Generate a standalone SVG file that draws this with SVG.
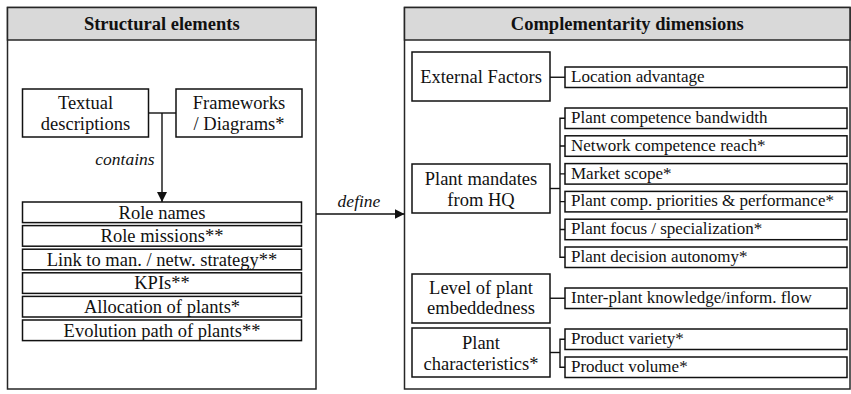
<svg xmlns="http://www.w3.org/2000/svg" width="851" height="394" viewBox="0 0 851 394">
  <style>
    .panel { fill: #ffffff; stroke: #262626; stroke-width: 1.5; }
    .head { fill: #d9d9d9; stroke: #262626; stroke-width: 1.5; }
    .box { fill: #ffffff; stroke: #111111; stroke-width: 1.5; }
    .wire { fill: none; stroke: #111111; stroke-width: 1.4; }
    text { fill: #111111; }
    .title { font-family: 'Liberation Serif', serif; font-size: 18.5px; font-weight: bold; text-anchor: middle; }
    .lbl { font-family: 'Liberation Serif', serif; font-size: 18.5px; text-anchor: middle; }
    .sub { font-family: 'Liberation Serif', serif; font-size: 17px; text-anchor: start; }
    .edge { font-family: 'Liberation Serif', serif; font-size: 17.5px; font-style: italic; text-anchor: middle; }
  </style>
  <defs>
    <marker id="arrow" viewBox="0 0 10 10" refX="10" refY="5" markerWidth="10" markerHeight="10" markerUnits="userSpaceOnUse" orient="auto">
      <path d="M0,0 L10,5 L0,10 Z" fill="#111111"/>
    </marker>
  </defs>

  <!-- Left panel: structural elements -->
  <g id="panel-structural">
    <rect class="panel" x="7.5" y="7.5" width="308.5" height="381.5"/>
    <rect class="head" x="7.5" y="7.5" width="308.5" height="32.5"/>
    <text class="title" x="161.75" y="29.5">Structural elements</text>
  </g>

  <g id="node-textual">
    <rect class="box" x="22.5" y="89" width="126" height="48"/>
    <text class="lbl" x="85.5" y="109">Textual</text>
    <text class="lbl" x="85.5" y="130">descriptions</text>
  </g>
  <g id="node-frameworks">
    <rect class="box" x="176" y="89" width="126" height="48"/>
    <text class="lbl" x="239" y="109">Frameworks</text>
    <text class="lbl" x="239" y="130">/ Diagrams*</text>
  </g>

  <g id="node-role-names">
    <rect class="box" x="22.5" y="202" width="279" height="20.6"/>
    <text class="lbl" x="162" y="218.5">Role names</text>
  </g>
  <g id="node-role-missions">
    <rect class="box" x="22.5" y="225.6" width="279" height="20.6"/>
    <text class="lbl" x="162" y="242.1">Role missions**</text>
  </g>
  <g id="node-link-strategy">
    <rect class="box" x="22.5" y="249.2" width="279" height="20.6"/>
    <text class="lbl" x="162" y="265.7">Link to man. / netw. strategy**</text>
  </g>
  <g id="node-kpis">
    <rect class="box" x="22.5" y="272.8" width="279" height="20.6"/>
    <text class="lbl" x="162" y="289.3">KPIs**</text>
  </g>
  <g id="node-allocation">
    <rect class="box" x="22.5" y="296.4" width="279" height="20.6"/>
    <text class="lbl" x="162" y="312.9">Allocation of plants*</text>
  </g>
  <g id="node-evolution">
    <rect class="box" x="22.5" y="320" width="279" height="20.6"/>
    <text class="lbl" x="162" y="336.5">Evolution path of plants**</text>
  </g>

  <!-- Right panel: complementarity dimensions -->
  <g id="panel-complementarity">
    <rect class="panel" x="404.5" y="7.5" width="445.5" height="381.5"/>
    <rect class="head" x="404.5" y="7.5" width="445.5" height="32.5"/>
    <text class="title" x="627.25" y="29.5">Complementarity dimensions</text>
  </g>

  <g id="node-external">
    <rect class="box" x="412" y="52" width="138" height="49"/>
    <text class="lbl" x="481" y="83">External Factors</text>
  </g>
  <g id="node-location">
    <rect class="box" x="565" y="67" width="282" height="20.5"/>
    <text class="sub" x="571" y="82">Location advantage</text>
  </g>

  <g id="node-mandates">
    <rect class="box" x="412" y="164" width="138" height="49"/>
    <text class="lbl" x="481" y="184.5">Plant mandates</text>
    <text class="lbl" x="481" y="205.5">from HQ</text>
  </g>
  <g id="node-bandwidth">
    <rect class="box" x="565" y="108" width="282" height="20.5"/>
    <text class="sub" x="571" y="123">Plant competence bandwidth</text>
  </g>
  <g id="node-reach">
    <rect class="box" x="565" y="135.8" width="282" height="20.5"/>
    <text class="sub" x="571" y="150.8">Network competence reach*</text>
  </g>
  <g id="node-market">
    <rect class="box" x="565" y="163.6" width="282" height="20.5"/>
    <text class="sub" x="571" y="178.6">Market scope*</text>
  </g>
  <g id="node-priorities">
    <rect class="box" x="565" y="191.4" width="282" height="20.5"/>
    <text class="sub" x="571" y="206.4">Plant comp. priorities &amp; performance*</text>
  </g>
  <g id="node-focus">
    <rect class="box" x="565" y="219.2" width="282" height="20.5"/>
    <text class="sub" x="571" y="234.2">Plant focus / specialization*</text>
  </g>
  <g id="node-autonomy">
    <rect class="box" x="565" y="247" width="282" height="20.5"/>
    <text class="sub" x="571" y="262">Plant decision autonomy*</text>
  </g>

  <g id="node-embeddedness">
    <rect class="box" x="412" y="274" width="138" height="49"/>
    <text class="lbl" x="481" y="293.5">Level of plant</text>
    <text class="lbl" x="481" y="314">embeddedness</text>
  </g>
  <g id="node-knowledge-flow">
    <rect class="box" x="565" y="288" width="282" height="20.5"/>
    <text class="sub" x="571" y="303">Inter-plant knowledge/inform. flow</text>
  </g>

  <g id="node-characteristics">
    <rect class="box" x="412" y="328" width="138" height="49"/>
    <text class="lbl" x="481" y="348.5">Plant</text>
    <text class="lbl" x="481" y="369.5">characteristics*</text>
  </g>
  <g id="node-variety">
    <rect class="box" x="565" y="329" width="282" height="20.5"/>
    <text class="sub" x="571" y="344">Product variety*</text>
  </g>
  <g id="node-volume">
    <rect class="box" x="565" y="357" width="282" height="20.5"/>
    <text class="sub" x="571" y="372">Product volume*</text>
  </g>

  <!-- Connectors -->
  <g id="connectors">
    <!-- sources joined, then down to the role list -->
    <path class="wire" d="M148.5,113 H176"/>
    <path class="wire" d="M162,113 V202" marker-end="url(#arrow)"/>
    <text class="edge" x="125" y="165">contains</text>

    <!-- panel to panel -->
    <path class="wire" d="M316,214 H404.5" marker-end="url(#arrow)"/>
    <text class="edge" x="359" y="207">define</text>

    <!-- External Factors -->
    <path class="wire" d="M550,77.25 H565"/>

    <!-- Plant mandates bracket -->
    <path class="wire" d="M550,188.5 H560"/>
    <path class="wire" d="M565,118.25 H560 V257.25 H565"/>
    <path class="wire" d="M560,146.05 H565 M560,173.85 H565 M560,201.65 H565 M560,229.45 H565"/>

    <!-- Embeddedness -->
    <path class="wire" d="M550,298.25 H565"/>

    <!-- Plant characteristics bracket -->
    <path class="wire" d="M550,352.5 H560"/>
    <path class="wire" d="M565,339.25 H560 V367.25 H565"/>
  </g>
</svg>
